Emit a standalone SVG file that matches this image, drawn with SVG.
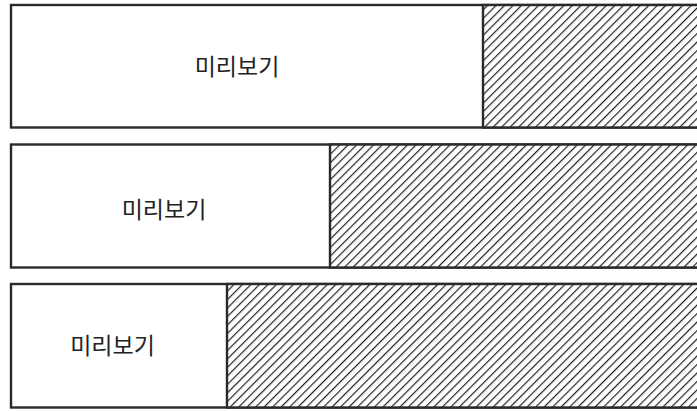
<svg xmlns="http://www.w3.org/2000/svg" width="697" height="411" viewBox="0 0 697 411">
<defs>
<pattern id="hatch" patternUnits="userSpaceOnUse" width="6" height="6" patternTransform="rotate(45)">
<rect width="6" height="6" fill="#fff"/>
<line x1="0" y1="0" x2="0" y2="6" stroke="#222" stroke-width="2.4"/>
</pattern>
</defs>
<style>
.frame{fill:#fff;stroke:#2a2a2a;stroke-width:2.4}
.hatch{fill:url(#hatch);stroke:#2a2a2a;stroke-width:2.4}
.lbl{font-family:"Noto Sans CJK KR","Noto Sans",sans-serif;font-weight:400;font-size:23px;fill:#222;text-anchor:middle}
</style>
<rect width="697" height="411" fill="#fff"/>
<g id="bar1">
<rect class="frame" x="11" y="5" width="700" height="122.5"/>
<rect class="hatch" x="483" y="5" width="228" height="122.5"/>
<text class="lbl" x="237" y="75">미리보기</text>
</g>
<g id="bar2">
<rect class="frame" x="11" y="144.5" width="700" height="123"/>
<rect class="hatch" x="330" y="144.5" width="381" height="123"/>
<text class="lbl" x="164" y="217.5">미리보기</text>
</g>
<g id="bar3">
<rect class="frame" x="11" y="284" width="700" height="123.5"/>
<rect class="hatch" x="227" y="284" width="484" height="123.5"/>
<text class="lbl" x="112.5" y="353.5">미리보기</text>
</g>
</svg>
